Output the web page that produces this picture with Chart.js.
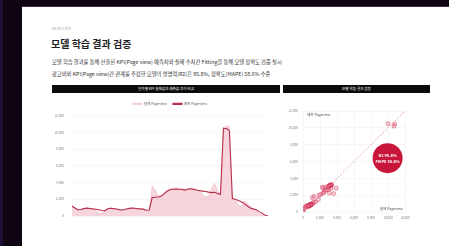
<!DOCTYPE html>
<html>
<head>
<meta charset="utf-8">
<script src="https://cdn.jsdelivr.net/npm/chart.js@4.4.0/dist/chart.umd.min.js"></script>
<style>
  html, body { margin: 0; padding: 0; width: 449px; height: 246px; overflow: hidden; background: #0f0412; font-family: "Noto Sans CJK KR", sans-serif; }
  .abs { position: absolute; }
  #strip { left: 0; top: 0; width: 3px; height: 246px; background: #1d0f36; }
  #card { left: 22px; top: 6px; width: 440px; height: 250px; background: #fff; border-top: 1px solid #3a2e3a; }
  #kicker { left: 52px; top: 27px; font-size: 3.5px; line-height: 4px; color: #999; }
  #title { left: 51px; top: 38px; font-size: 10px; line-height: 11px; font-weight: 700; color: #1e1e1e; }
  .desc { left: 52px; font-size: 5.3px; line-height: 6px; color: #333; white-space: nowrap; }
  .bar { top: 85px; height: 8px; background: #0b0b0b; color: #fff; font-size: 3.6px; line-height: 8px; text-align: center; }
  #bar1 { left: 52px; width: 228px; }
  #bar2 { left: 283px; width: 147px; }
  #wrap1 { left: 44px; top: 96px; }
  #wrap2 { left: 283px; top: 96px; }
</style>
</head>
<body>
<div id="strip" class="abs"></div>
<div id="card" class="abs"></div>
<div id="kicker" class="abs">DE 분석 결과</div>
<div id="title" class="abs">모델 학습 결과 검증</div>
<div class="abs desc" style="top:59px">모델 학습 결과를 통해 산출된 KPI(Page view) 예측치와 실제 수치간 Fitting을 통해 모델 정확도 검증 실시</div>
<div class="abs desc" style="top:71px">광고비와 KPI(Page view)간 관계를 추정한 모델의 설명력(R2)은 95.8%, 정확도(MAPE) 58.6% 수준</div>
<div id="bar1" class="abs bar">일자별 KPI 실제값과 예측값 추이 비교</div>
<div id="bar2" class="abs bar">모델 학습 결과 검증</div>
<div id="wrap1" class="abs"><canvas id="chart-line" width="226" height="131"></canvas></div>
<div id="wrap2" class="abs"><canvas id="chart-fit" width="137" height="131"></canvas></div>

<script>
// 일자 (2023-10-01 ~ 2023-12-06)
const dates = [
  '2023-10-01','2023-10-02','2023-10-03','2023-10-04','2023-10-05','2023-10-06','2023-10-07',
  '2023-10-08','2023-10-09','2023-10-10','2023-10-11','2023-10-12','2023-10-13','2023-10-14',
  '2023-10-15','2023-10-16','2023-10-17','2023-10-18','2023-10-19','2023-10-20','2023-10-21',
  '2023-10-22','2023-10-23','2023-10-24','2023-10-25','2023-10-26','2023-10-27','2023-10-28',
  '2023-10-29','2023-10-30','2023-10-31','2023-11-01','2023-11-02','2023-11-03','2023-11-04',
  '2023-11-05','2023-11-06','2023-11-07','2023-11-08','2023-11-09','2023-11-10','2023-11-11',
  '2023-11-12','2023-11-13','2023-11-14','2023-11-15','2023-11-16','2023-11-17','2023-11-18',
  '2023-11-19','2023-11-20','2023-11-21','2023-11-22','2023-11-23','2023-11-24','2023-11-25',
  '2023-11-26','2023-11-27','2023-11-28','2023-11-29','2023-11-30','2023-12-01','2023-12-02',
  '2023-12-03','2023-12-04','2023-12-05','2023-12-06'
];
const xTickLabels = ['2023-10-01', '2023-10-15', '2023-10-29', '2023-11-12', '2023-11-26'];

// 실제 / 예측 Pageview
const actualPv = [
  1250, 1000, 800, 760, 900, 980, 920, 800, 650, 380, 330, 520, 900, 980,
  900, 800, 700, 650, 780, 900, 1000, 950, 900, 820, 750, 650, 700, 3600,
  3100, 2400, 2450, 2800, 3050, 3200, 3300, 3350, 3250, 3150, 3050, 3300, 3350, 3200,
  3050, 2950, 2600, 2250, 2400, 3300, 3900, 3000, 2600, 10000, 10800, 10700, 2100, 1900,
  1300, 1100, 1800, 1500, 1150, 900, 600, 250, 50, 0, 0
];
const predPv = [
  1170, 950, 720, 780, 880, 940, 900, 850, 800, 740, 650, 620, 870, 920,
  880, 830, 760, 720, 800, 880, 940, 920, 880, 850, 820, 690, 720, 2190,
  2250, 2280, 2350, 2650, 2950, 3130, 3200, 3210, 3200, 3180, 3100, 3200, 3250, 3180,
  3100, 3030, 2970, 2930, 2850, 2800, 2830, 2700, 2570, 10500, 10450, 10200, 2080, 2000,
  1850, 1700, 1480, 1200, 950, 850, 750, 520, 330, 100, 0
];

// 검증 차트
const fitLine = [0, 12000];
const scorePos = [9950, 6400];
const scoreLabels = ['R2 95.8%', 'MAPE 58.6%'];
const axisNames = ['실제 Pageview', '예측 Pageview'];

const FONT = "'Noto Sans CJK KR', 'Noto Sans', sans-serif";
Chart.defaults.font.family = FONT;

const fmt = (v) => Number(v).toLocaleString('en-US');

// 일자별 추이
new Chart(document.getElementById('chart-line'), {
  type: 'line',
  data: {
    labels: dates,
    datasets: [
      {
        label: axisNames[1],
        data: predPv,
        borderColor: '#b62f4b',
        backgroundColor: '#b62f4b',
        borderWidth: 1.1,
        pointRadius: 0,
        fill: false,
        tension: 0
      },
      {
        label: axisNames[0],
        data: actualPv,
        borderColor: 'rgba(238,170,184,0.8)',
        backgroundColor: 'rgba(241,178,191,0.55)',
        borderWidth: 0.6,
        pointRadius: 0,
        fill: 'origin',
        tension: 0
      }
    ]
  },
  options: {
    responsive: false,
    animation: false,
    layout: { padding: { top: 0, right: 2, left: 0, bottom: 0 } },
    plugins: {
      legend: {
        reverse: true,
        fullSize: false,
        labels: { boxWidth: 9, boxHeight: 1.2, padding: 6, font: { size: 3.6 }, color: '#666' }
      },
      tooltip: { enabled: false }
    },
    scales: {
      x: {
        grid: { display: false },
        border: { display: false },
        afterFit: (s) => { s.height = 11; },
        ticks: {
          autoSkip: false, maxRotation: 0, font: { size: 3.2 }, color: '#888', padding: 3,
          callback: function (v) {
            const d = this.getLabelForValue(v);
            return xTickLabels.includes(d) ? d : null;
          }
        }
      },
      y: {
        min: 0, max: 12000,
        grid: { color: '#f0f0f0', lineWidth: 0.6, drawTicks: false },
        border: { display: false },
        afterFit: (s) => { s.width = 28; },
        ticks: { stepSize: 2000, font: { size: 3.2 }, color: '#888', padding: 8, callback: fmt }
      }
    }
  }
});

// 산점도 위 텍스트
const fitText = {
  id: 'fitText',
  afterDatasetsDraw(chart) {
    const { ctx, chartArea: a } = chart;
    const el = chart.getDatasetMeta(0).data[0];
    ctx.save();
    ctx.fillStyle = '#fff';
    ctx.font = 'bold 4px ' + FONT;
    ctx.textAlign = 'center';
    ctx.textBaseline = 'middle';
    ctx.fillText(scoreLabels[0], el.x, el.y - 3);
    ctx.fillText(scoreLabels[1], el.x, el.y + 3);
    ctx.fillStyle = '#555';
    ctx.font = '3.6px ' + FONT;
    ctx.textAlign = 'left';
    ctx.fillText(axisNames[1], a.left + 4, a.top + 4);
    ctx.textAlign = 'right';
    ctx.fillText(axisNames[0], a.right - 2, a.bottom - 3);
    ctx.restore();
  }
};

new Chart(document.getElementById('chart-fit'), {
  type: 'scatter',
  data: {
    datasets: [
      {
        data: [{ x: scorePos[0], y: scorePos[1] }],
        pointRadius: 15,
        backgroundColor: '#c8163a',
        borderWidth: 0
      },
      {
        data: actualPv.map((a, i) => ({ x: a, y: predPv[i] })),
        pointRadius: 2,
        backgroundColor: 'rgba(232,120,145,0.35)',
        borderColor: 'rgba(205,45,80,0.75)',
        borderWidth: 0.6
      },
      {
        type: 'line',
        data: fitLine.map((v) => ({ x: v, y: v })),
        borderColor: 'rgba(222,90,115,0.75)',
        borderWidth: 0.7,
        borderDash: [2, 1.5],
        pointRadius: 0
      }
    ]
  },
  options: {
    responsive: false,
    animation: false,
    layout: { padding: { top: 6, right: 0, left: 0, bottom: 0 } },
    plugins: { legend: { display: false }, tooltip: { enabled: false } },
    scales: {
      x: {
        type: 'linear', min: 0, max: 12000,
        grid: { color: '#f1f1f1', lineWidth: 0.6, drawTicks: false },
        border: { display: false },
        afterFit: (s) => { s.height = 10; },
        ticks: { stepSize: 2000, font: { size: 3.2 }, color: '#888', padding: 4, callback: fmt }
      },
      y: {
        min: 0, max: 12000,
        grid: { color: '#f1f1f1', lineWidth: 0.6, drawTicks: false },
        border: { display: false },
        afterFit: (s) => { s.width = 20; },
        ticks: { stepSize: 2000, font: { size: 3.2 }, color: '#888', padding: 5, callback: fmt }
      }
    }
  },
  plugins: [fitText]
});
</script>
</body>
</html>
